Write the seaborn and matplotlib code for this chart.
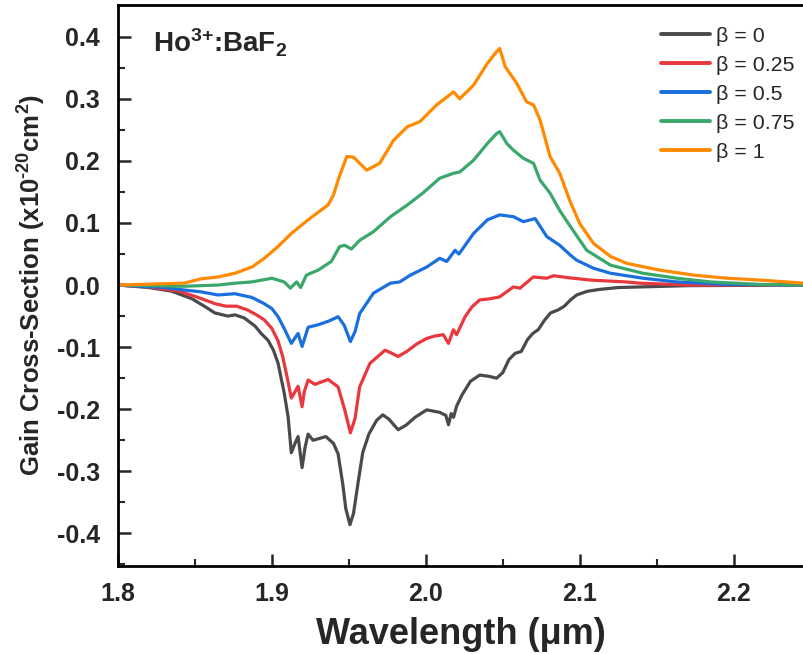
import numpy as np
import pandas as pd
import matplotlib
matplotlib.use("Agg")
import matplotlib.pyplot as plt
import seaborn as sns

# ---- data ----
wl_b0 = [1.800, 1.820, 1.835, 1.848, 1.856, 1.863, 1.8715, 1.876, 1.882, 1.889, 1.893, 1.8975,
         1.901, 1.904, 1.908, 1.9105, 1.9126, 1.915, 1.917, 1.9196, 1.9215, 1.9235, 1.9267,
         1.931, 1.935, 1.940, 1.943, 1.946, 1.948, 1.9507, 1.953, 1.956, 1.959, 1.963, 1.968,
         1.972, 1.976, 1.982, 1.987, 1.993, 2.0006, 2.009, 2.013, 2.0147, 2.0165, 2.018, 2.020,
         2.0235, 2.029, 2.035, 2.041, 2.046, 2.050, 2.054, 2.058, 2.062, 2.066, 2.0695, 2.073,
         2.077, 2.081, 2.086, 2.090, 2.094, 2.098, 2.105, 2.113, 2.125, 2.140, 2.170, 2.246]
g_b0 = [0.000, -0.004, -0.010, -0.022, -0.034, -0.045, -0.050, -0.048, -0.053, -0.066, -0.078,
        -0.089, -0.105, -0.126, -0.174, -0.212, -0.270, -0.255, -0.244, -0.294, -0.262, -0.240,
        -0.250, -0.247, -0.244, -0.255, -0.272, -0.320, -0.360, -0.386, -0.368, -0.318, -0.270,
        -0.240, -0.218, -0.209, -0.216, -0.233, -0.226, -0.213, -0.201, -0.205, -0.210, -0.225,
        -0.207, -0.213, -0.195, -0.177, -0.155, -0.145, -0.147, -0.150, -0.141, -0.120, -0.110,
        -0.107, -0.088, -0.078, -0.072, -0.057, -0.045, -0.040, -0.034, -0.024, -0.016, -0.010,
        -0.007, -0.004, -0.003, -0.001, 0.000]

wl_b025 = [1.800, 1.820, 1.840, 1.852, 1.863, 1.870, 1.877, 1.884, 1.890, 1.895, 1.900, 1.904,
           1.907, 1.910, 1.9126, 1.915, 1.917, 1.9196, 1.921, 1.9235, 1.928, 1.9365, 1.943,
           1.9473, 1.951, 1.954, 1.957, 1.9637, 1.9735, 1.978, 1.982, 1.9876, 1.994, 2.0006,
           2.006, 2.0114, 2.0147, 2.0179, 2.020, 2.0255, 2.030, 2.035, 2.042, 2.048, 2.0569,
           2.0612, 2.0698, 2.0786, 2.083, 2.092, 2.107, 2.130, 2.139, 2.172, 2.246]
g_b025 = [0.000, -0.003, -0.010, -0.020, -0.030, -0.034, -0.034, -0.040, -0.048, -0.056,
          -0.070, -0.090, -0.115, -0.150, -0.182, -0.172, -0.163, -0.196, -0.172, -0.153,
          -0.160, -0.152, -0.164, -0.201, -0.238, -0.215, -0.164, -0.126, -0.105, -0.110,
          -0.115, -0.107, -0.095, -0.086, -0.082, -0.080, -0.094, -0.072, -0.080, -0.051,
          -0.035, -0.024, -0.022, -0.019, -0.003, -0.005, 0.013, 0.011, 0.015, 0.012, 0.008,
          0.005, 0.003, 0.000, 0.000]

wl_b05 = [1.800, 1.830, 1.843, 1.854, 1.865, 1.876, 1.887, 1.895, 1.900, 1.904, 1.908, 1.9126,
          1.915, 1.917, 1.9196, 1.9235, 1.930, 1.937, 1.943, 1.947, 1.951, 1.954, 1.957, 1.966,
          1.977, 1.983, 1.990, 2.0006, 2.009, 2.0136, 2.019, 2.0215, 2.031, 2.040, 2.048, 2.057,
          2.0634, 2.071, 2.0786, 2.087, 2.094, 2.098, 2.109, 2.120, 2.141, 2.163, 2.196, 2.246]
g_b05 = [0.000, -0.004, -0.008, -0.011, -0.016, -0.014, -0.020, -0.030, -0.038, -0.051,
         -0.070, -0.094, -0.085, -0.078, -0.099, -0.068, -0.064, -0.058, -0.051, -0.065,
         -0.091, -0.075, -0.046, -0.013, 0.003, 0.005, 0.016, 0.029, 0.043, 0.038, 0.056,
         0.050, 0.083, 0.105, 0.113, 0.110, 0.102, 0.107, 0.078, 0.064, 0.048, 0.040, 0.027,
         0.019, 0.011, 0.005, 0.001, 0.000]

wl_b075 = [1.800, 1.843, 1.865, 1.876, 1.887, 1.900, 1.908, 1.912, 1.916, 1.9187, 1.9224,
           1.930, 1.9386, 1.944, 1.9473, 1.9516, 1.957, 1.966, 1.977, 1.988, 1.998, 2.009,
           2.018, 2.022, 2.031, 2.040, 2.046, 2.048, 2.0526, 2.057, 2.0634, 2.070, 2.0742,
           2.0807, 2.087, 2.094, 2.1045, 2.120, 2.141, 2.163, 2.185, 2.217, 2.246]
g_b075 = [0.000, -0.002, 0.000, 0.003, 0.005, 0.011, 0.005, -0.005, 0.005, -0.004, 0.016,
          0.024, 0.038, 0.062, 0.064, 0.058, 0.072, 0.086, 0.110, 0.129, 0.148, 0.172, 0.180,
          0.182, 0.201, 0.228, 0.244, 0.247, 0.228, 0.217, 0.204, 0.196, 0.169, 0.148, 0.120,
          0.094, 0.056, 0.032, 0.019, 0.011, 0.005, 0.001, 0.000]

wl_b1 = [1.800, 1.843, 1.854, 1.865, 1.876, 1.887, 1.895, 1.904, 1.9126, 1.9235, 1.9365, 1.940,
         1.943, 1.9486, 1.953, 1.9616, 1.970, 1.979, 1.988, 1.996, 2.007, 2.018, 2.022, 2.031,
         2.040, 2.046, 2.048, 2.0515, 2.059, 2.0655, 2.070, 2.0742, 2.0807, 2.087, 2.0937,
         2.100, 2.109, 2.120, 2.1305, 2.152, 2.174, 2.1955, 2.217, 2.246]
g_b1 = [0.000, 0.003, 0.010, 0.013, 0.019, 0.029, 0.043, 0.062, 0.083, 0.105, 0.129, 0.145,
        0.169, 0.207, 0.206, 0.185, 0.196, 0.233, 0.255, 0.263, 0.290, 0.311, 0.300, 0.322,
        0.357, 0.376, 0.381, 0.352, 0.325, 0.295, 0.290, 0.266, 0.207, 0.180, 0.135, 0.099,
        0.067, 0.046, 0.035, 0.024, 0.016, 0.011, 0.008, 0.003]

labels = ["\u03b2 = 0", "\u03b2 = 0.25", "\u03b2 = 0.5", "\u03b2 = 0.75", "\u03b2 = 1"]
colors = ["#4a4a4a", "#e8383d", "#1a6fdf", "#3aa86a", "#ff8a00"]
x_ticks = [1.8, 1.9, 2.0, 2.1, 2.2]
y_ticks = [-0.4, -0.3, -0.2, -0.1, 0.0, 0.1, 0.2, 0.3, 0.4]

series = [(wl_b0, g_b0), (wl_b025, g_b025), (wl_b05, g_b05), (wl_b075, g_b075), (wl_b1, g_b1)]
frames = []
for lab, (wx, gy) in zip(labels, series):
    frames.append(pd.DataFrame({"wl": wx, "gain": gy, "beta": lab}))
df = pd.concat(frames, ignore_index=True)

sns.set_style("ticks")
plt.rcParams["font.family"] = ["Liberation Sans", "DejaVu Sans"]
plt.rcParams["mathtext.fontset"] = "custom"
plt.rcParams["mathtext.rm"] = "Liberation Sans"
plt.rcParams["mathtext.it"] = "Liberation Sans:italic"
plt.rcParams["mathtext.bf"] = "Liberation Sans:bold"

fig = plt.figure(figsize=(8.04, 6.54), dpi=100)
ax = fig.add_axes([118 / 804, 88.3 / 654, (804 - 118) / 804, (565.7 - 5) / 654])

sns.lineplot(data=df, x="wl", y="gain", hue="beta", hue_order=labels,
             palette=dict(zip(labels, colors)), estimator=None, sort=True,
             linewidth=2.3, ax=ax)

ax.set_xlim(1.8, 2.2457)
ax.set_ylim(-0.452, 0.451)
ax.set_xticks(x_ticks)
ax.set_xticklabels([f"{v:.1f}" for v in x_ticks])
ax.set_yticks(y_ticks)
ax.set_yticklabels([f"{v:.1f}" for v in y_ticks])
ax.set_xticks(np.arange(1.85, 2.25, 0.1), minor=True)
ax.set_yticks(np.arange(-0.45, 0.45, 0.1), minor=True)
ax.tick_params(which="major", direction="in", length=9, width=1.8, labelsize=18)
ax.tick_params(which="minor", direction="in", length=5, width=1.5)
ax.tick_params(axis="x", pad=12)
ax.tick_params(axis="y", pad=13)
for lab in ax.get_xticklabels() + ax.get_yticklabels():
    lab.set_fontweight("bold")

for side in ["left", "bottom", "top"]:
    ax.spines[side].set_linewidth(2.0)
    ax.spines[side].set_color("black")
ax.spines["right"].set_visible(False)

ax.set_xlabel("Wavelength (\u03bcm)", fontsize=26, fontweight="bold", labelpad=8)
ax.set_ylabel("Gain Cross-Section (x10$^{\\mathbf{\u201020}}$cm$^{\\mathbf{2}}$)", fontsize=18.5,
              fontweight="bold", labelpad=6)

ax.text(153 / 804, 1 - 43 / 654, "Ho$^{\\mathbf{3{+}}}$:BaF$_{\\mathbf{2}}$",
        transform=fig.transFigure, fontsize=20, fontweight="bold", va="center", ha="left")

leg = ax.legend(loc="upper left", bbox_to_anchor=(661 / 804, 1 - 26.5 / 654),
                bbox_transform=fig.transFigure, frameon=False, fontsize=15.4,
                handlelength=2.29, handletextpad=0.28, labelspacing=0.47, borderpad=0,
                borderaxespad=0)
for line in leg.get_lines():
    line.set_linewidth(2.8)

fig.savefig("out.png", dpi=100)
